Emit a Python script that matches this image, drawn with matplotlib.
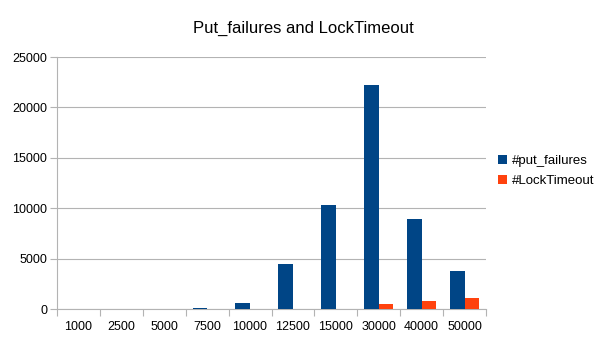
import matplotlib
matplotlib.use("Agg")
import matplotlib.pyplot as plt
import numpy as np
from matplotlib.ticker import FixedLocator

plt.rcParams['font.family'] = ['Liberation Sans', 'DejaVu Sans']

categories = ["1000", "2500", "5000", "7500", "10000", "12500", "15000", "30000", "40000", "50000"]
put_failures = [0, 0, 20, 60, 600, 4500, 10300, 22200, 8900, 3800]
lock_timeout = [0, 0, 0, 0, 10, 10, 30, 450, 800, 1100]
series_names = ["#put_failures", "#LockTimeout"]
colors = ["#004586", "#ff420e"]

fig = plt.figure(figsize=(6.05, 3.4), dpi=100)
ax = fig.add_axes([57/605, 1 - 309/340, (486-57)/605, (309-57)/340])

x = np.arange(len(categories))
w = 0.34
ax.bar(x - w/2, put_failures, w, color=colors[0], label=series_names[0], zorder=3)
ax.bar(x + w/2, lock_timeout, w, color=colors[1], label=series_names[1], zorder=3)

ax.set_xlim(-0.5, len(categories) - 0.5)
ax.set_ylim(0, 25000)
ax.set_yticks(np.arange(0, 25001, 5000))
ax.yaxis.grid(True, color="#b3b3b3", linewidth=0.8, zorder=0)
ax.set_xticks(x)
ax.set_xticklabels(categories)
ax.xaxis.set_minor_locator(FixedLocator(np.arange(-0.5, len(categories), 1.0)))
ax.tick_params(axis='x', which='major', length=0, pad=9, labelsize=9)
ax.tick_params(axis='x', which='minor', length=5, color="#b3b3b3", width=0.8)
ax.tick_params(axis='y', length=5, color="#b3b3b3", width=0.8, labelsize=9, pad=2)
for s in ['top', 'right']:
    ax.spines[s].set_visible(False)
for s in ['left', 'bottom']:
    ax.spines[s].set_color("#b3b3b3")
    ax.spines[s].set_linewidth(0.8)

fig.text(303/605, 1 - 28/340, "Put_failures and LockTimeout", ha='center', va='center', fontsize=12)
fig.legend(loc='center left', bbox_to_anchor=(486/605, 1 - 171/340), frameon=False,
           fontsize=9.5, handlelength=0.7, handleheight=0.7, handletextpad=0.4, labelspacing=0.55)

fig.savefig("out.png", dpi=100)
